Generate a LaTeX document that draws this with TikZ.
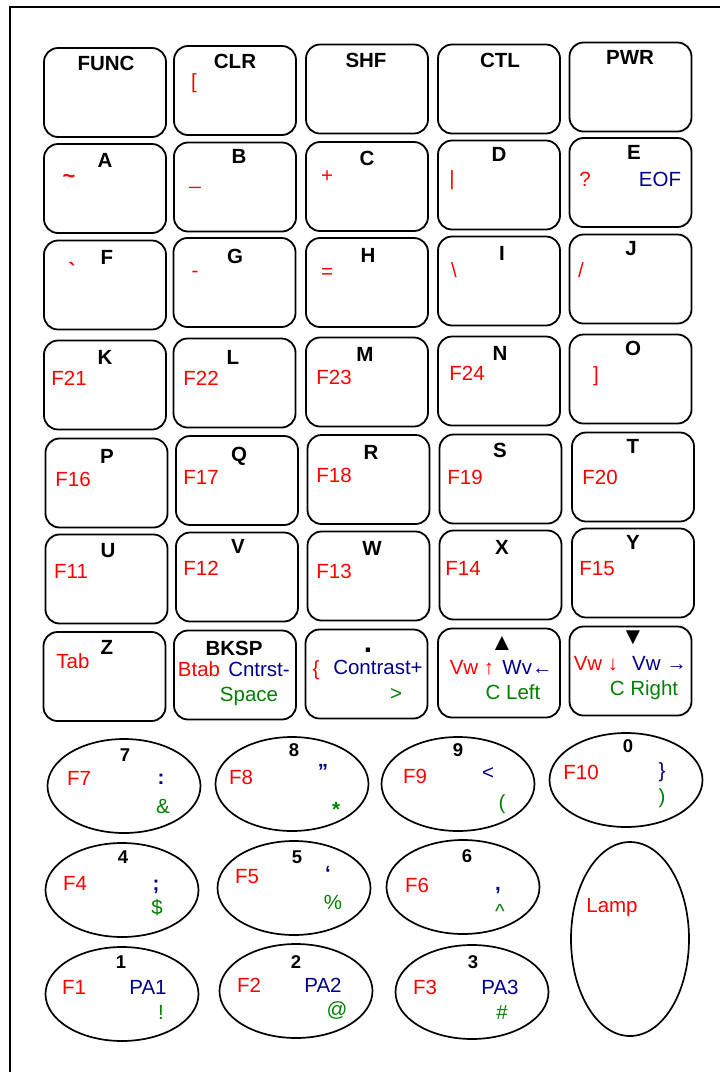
\documentclass[tikz,border=0pt]{standalone}
\usepackage{fontspec}
\setmainfont{Liberation Sans}
\usetikzlibrary{shapes.geometric}
\definecolor{fnred}{RGB}{255,0,0}
\definecolor{fnblue}{RGB}{0,0,140}
\definecolor{fngreen}{RGB}{0,128,0}

\begin{document}
\begin{tikzpicture}[x=1pt, y=-1pt,
  flatkey/.style={draw, line width=1.8pt, rounded corners=14pt, minimum width=122pt, minimum height=89pt, inner sep=0pt},
  padkey/.style={draw, ellipse, line width=1.7pt, minimum width=153pt, minimum height=94pt, inner sep=0pt},
  lbl/.style={inner sep=0pt, text height=14.7pt, text depth=0pt, font=\fontsize{20.5}{24}\selectfont},
  keycap/.style={lbl, font=\fontsize{20.5}{24}\selectfont\bfseries},
  digit/.style={lbl, text height=13.2pt, font=\fontsize{18.5}{22}\selectfont\bfseries},
  rtxt/.style={lbl, text=fnred},
  btxt/.style={lbl, text=fnblue},
  gtxt/.style={lbl, text=fngreen},
  tri/.style={inner sep=0pt, font=\fontsize{24}{26}\selectfont}
]

% --- page and frame ---
\useasboundingbox (0,0) rectangle (720,1072);
\clip (0,0) rectangle (720,1072);
\draw[line width=2pt] (10,7) rectangle (740,1090);

% --- row 1 ---
\node[flatkey] (kFUNC) at (105,92.5) {};
\node[flatkey] (kCLR) at (235,90.5) {};
\node[flatkey] (kSHF) at (367,89) {};
\node[flatkey] (kCTL) at (499,89) {};
\node[flatkey] (kPWR) at (630.5,87) {};
\node[keycap] (lFUNC) at (106,63) {FUNC};
\node[keycap] (lCLR) at (235,61) {CLR};
\node[rtxt] (sCLR) at (194,81) {[};
\node[keycap] (lSHF) at (366,60) {SHF};
\node[keycap] (lCTL) at (500,60) {CTL};
\node[keycap] (lPWR) at (630,57) {PWR};

% --- row 2 ---
\node[flatkey] (kA) at (105,188.5) {};
\node[flatkey] (kB) at (235,187) {};
\node[flatkey] (kC) at (367,186.5) {};
\node[flatkey] (kD) at (499,185) {};
\node[flatkey] (kE) at (630.5,182.5) {};
\node[keycap] (lA) at (105,160) {A};
\node[rtxt, font=\fontsize{22}{24}\selectfont\bfseries] (sA) at (69,176) {\textasciitilde};
\node[keycap] (lB) at (239,156) {B};
\node[rtxt] (sB) at (195,177) {\_};
\node[keycap] (lC) at (367,158) {C};
\node[rtxt] (sC) at (327,175) {+};
\node[keycap] (lD) at (499,154) {D};
\node[rtxt] (sD) at (452,178) {\textbar};
\node[keycap] (lE) at (634,152) {E};
\node[rtxt] (sE) at (585,179) {?};
\node[btxt] (xE) at (660,179) {EOF};

% --- row 3 ---
\node[flatkey] (kF) at (105,285) {};
\node[flatkey] (kG) at (234.5,282.5) {};
\node[flatkey] (kH) at (367,282.5) {};
\node[flatkey] (kI) at (499,281) {};
\node[flatkey] (kJ) at (630.5,279) {};
\node[keycap] (lF) at (107,257.5) {F};
\node[rtxt, font=\fontsize{22}{24}\selectfont\bfseries] (sF) at (72,271) {\textasciigrave};
\node[keycap] (lG) at (235,256) {G};
\node[rtxt] (sG) at (195,270) {-};
\node[keycap] (lH) at (368,255) {H};
\node[rtxt] (sH) at (327,271.5) {=};
\node[keycap] (lI) at (502,253) {I};
\node[rtxt] (sI) at (454,270) {\textbackslash};
\node[keycap] (lJ) at (631,248) {J};
\node[rtxt] (sJ) at (581,270) {/};

% --- row 4 ---
\node[flatkey] (kK) at (105,385) {};
\node[flatkey] (kL) at (234.5,383) {};
\node[flatkey] (kM) at (367,382) {};
\node[flatkey] (kN) at (499,381) {};
\node[flatkey] (kO) at (630.5,379) {};
\node[keycap] (lK) at (105,357) {K};
\node[rtxt] (sK) at (69,378) {F21};
\node[keycap] (lL) at (233,357) {L};
\node[rtxt] (sL) at (201,378) {F22};
\node[keycap] (lM) at (365,354) {M};
\node[rtxt] (sM) at (334,377) {F23};
\node[keycap] (lN) at (500,353) {N};
\node[rtxt] (sN) at (467,373) {F24};
\node[keycap] (lO) at (633,348) {O};
\node[rtxt] (sO) at (596,374) {]};

% --- row 5 ---
\node[flatkey] (kP) at (106.5,483) {};
\node[flatkey] (kQ) at (237,480.5) {};
\node[flatkey] (kR) at (368.5,479.5) {};
\node[flatkey] (kS) at (500.5,479) {};
\node[flatkey] (kT) at (633,477) {};
\node[keycap] (lP) at (107,456) {P};
\node[rtxt] (sP) at (73,479) {F16};
\node[keycap] (lQ) at (239,454) {Q};
\node[rtxt] (sQ) at (201,477) {F17};
\node[keycap] (lR) at (371,452) {R};
\node[rtxt] (sR) at (334,475) {F18};
\node[keycap] (lS) at (500,450) {S};
\node[rtxt] (sS) at (465,477) {F19};
\node[keycap] (lT) at (633,446) {T};
\node[rtxt] (sT) at (600,477) {F20};

% --- row 6 ---
\node[flatkey] (kU) at (106.5,579) {};
\node[flatkey] (kV) at (237,577) {};
\node[flatkey] (kW) at (368.5,576) {};
\node[flatkey] (kX) at (500.5,575) {};
\node[flatkey] (kY) at (633,573) {};
\node[keycap] (lU) at (108,550) {U};
\node[rtxt] (sU) at (71,571) {F11};
\node[keycap] (lV) at (238,546) {V};
\node[rtxt] (sV) at (201,568) {F12};
\node[keycap] (lW) at (372,548) {W};
\node[rtxt] (sW) at (334,571) {F13};
\node[keycap] (lX) at (502,547) {X};
\node[rtxt] (sX) at (463,568) {F14};
\node[keycap] (lY) at (633,542) {Y};
\node[rtxt] (sY) at (597,568) {F15};

% --- row 7 ---
\node[flatkey] (kZ) at (104.5,676.5) {};
\node[flatkey] (kBKSP) at (235,675) {};
\node[flatkey] (kDOT) at (366.5,674) {};
\node[flatkey] (kUP) at (499,673) {};
\node[flatkey] (kDOWN) at (630.5,671) {};
\node[keycap] (lZ) at (107,647) {Z};
\node[rtxt] (sZ) at (73,661) {Tab};
\node[keycap] (lBKSP) at (234,648) {BKSP};
\node[rtxt] (sBKSP) at (199,669) {Btab};
\node[btxt] (xBKSP) at (259,669) {Cntrst-};
\node[gtxt] (gBKSP) at (249,694) {Space};
\node[keycap, font=\fontsize{30}{32}\selectfont\bfseries] (lDOT) at (368,645) {.};
\node[rtxt] (sDOT) at (316,668) {\{};
\node[btxt] (xDOT) at (378,667) {Contrast+};
\node[gtxt] (gDOT) at (396,693) {>};
\node[tri] (lUP) at (502,643) {▲};
\node[rtxt] (sUP) at (472,667) {Vw ↑};
\node[btxt] (xUP) at (527.5,667) {Wv←};
\node[gtxt] (gUP) at (513,692) {C Left};
\node[tri] (lDOWN) at (633,638) {▼};
\node[rtxt] (sDOWN) at (596,663) {Vw ↓};
\node[btxt] (xDOWN) at (659.5,663) {Vw →};
\node[gtxt] (gDOWN) at (644,688) {C Right};

% --- number pad ---
\node[padkey] (k7) at (124,786) {};
\node[padkey] (k8) at (292,784) {};
\node[padkey] (k9) at (458,784) {};
\node[padkey] (k0) at (626,780) {};
\node[padkey] (k4) at (122,890) {};
\node[padkey] (k5) at (294,888) {};
\node[padkey] (k6) at (463,887) {};
\node[padkey] (k1) at (122,994) {};
\node[padkey] (k2) at (296,991) {};
\node[padkey] (k3) at (472,992) {};
\node[padkey, minimum width=118pt, minimum height=194pt] (kLamp) at (630,939) {};

\node[digit] (l7) at (125,755) {7};
\node[rtxt] (s7) at (79,778) {F7};
\node[btxt, font=\fontsize{20.5}{24}\selectfont\bfseries] (x7) at (161,777) {:};
\node[gtxt] (g7) at (163,806) {\&};

\node[digit] (l8) at (294,750) {8};
\node[rtxt] (s8) at (241,777) {F8};
\node[btxt, font=\fontsize{20.5}{24}\selectfont\bfseries] (x8) at (323,771.5) {”};
\node[gtxt, font=\fontsize{20.5}{24}\selectfont\bfseries] (g8) at (336,808.7) {*};

\node[digit] (l9) at (458,750) {9};
\node[rtxt] (s9) at (415,776) {F9};
\node[btxt] (x9) at (488,772.5) {<};
\node[gtxt] (g9) at (502,802) {(};

\node[digit] (l0) at (628,746) {0};
\node[rtxt] (s0) at (581,772) {F10};
\node[btxt] (x0) at (662,770) {\}};
\node[gtxt] (g0) at (662,796) {)};

\node[digit] (l4) at (123,857) {4};
\node[rtxt] (s4) at (75,883) {F4};
\node[btxt, font=\fontsize{20.5}{24}\selectfont\bfseries] (x4) at (156,883.6) {;};
\node[gtxt] (g4) at (157,907) {\$};

\node[digit] (l5) at (297,857) {5};
\node[rtxt] (s5) at (247,876) {F5};
\node[btxt, font=\fontsize{20.5}{24}\selectfont\bfseries] (x5) at (328,873.5) {‘};
\node[gtxt] (g5) at (333,902) {\%};

\node[digit] (l6) at (467,856) {6};
\node[rtxt] (s6) at (417,885) {F6};
\node[btxt, font=\fontsize{20.5}{24}\selectfont\bfseries] (x6) at (498,882.75) {,};
\node[gtxt] (g6) at (500,911) {\textasciicircum};

\node[digit] (l1) at (121,962) {1};
\node[rtxt] (s1) at (74,987) {F1};
\node[btxt] (x1) at (148,987) {PA1};
\node[gtxt] (g1) at (161,1012) {!};

\node[digit] (l2) at (296,962) {2};
\node[rtxt] (s2) at (249,985) {F2};
\node[btxt] (x2) at (323,985) {PA2};
\node[gtxt] (g2) at (337,1009) {@};

\node[digit] (l3) at (473,962) {3};
\node[rtxt] (s3) at (425,987) {F3};
\node[btxt] (x3) at (500,987) {PA3};
\node[gtxt] (g3) at (502,1012) {\#};

\node[rtxt] (sLamp) at (612,905) {Lamp};

\end{tikzpicture}
\end{document}
